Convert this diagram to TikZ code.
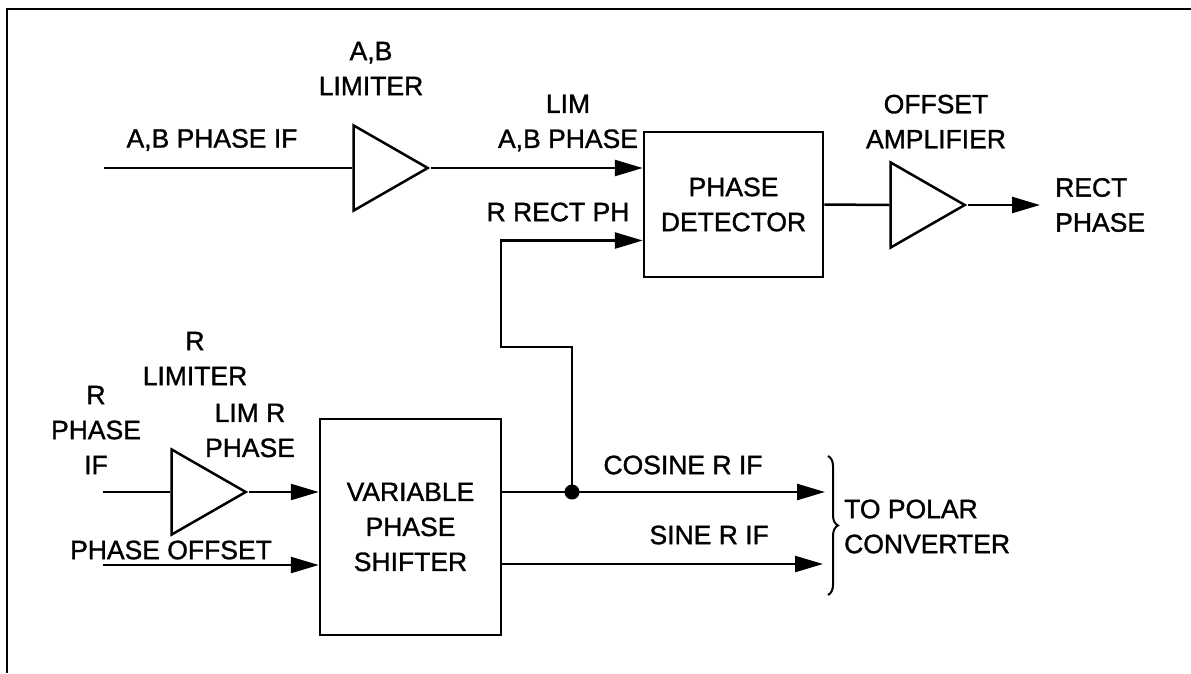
\documentclass[tikz,border=0pt]{standalone}
\usepackage{fontspec}
\setmainfont[FakeBold=1.2]{Liberation Sans}
\usetikzlibrary{shapes.geometric,arrows.meta,positioning,decorations.pathreplacing}

\begin{document}
\begin{tikzpicture}[
      x=1pt, y=-1pt,
      block/.style={
        rectangle,
        draw, line width=2.5pt,
        inner sep=0pt,
        font=\fontsize{26.5}{35}\selectfont,
        align=center
      },
      amp/.style={
        isosceles triangle,
        isosceles triangle stretches,
        draw, line width=2.5pt,
        minimum width=85pt,
        minimum height=74pt,
        inner sep=0pt
      },
      arrow/.style={
        -{Triangle[length=28pt,width=16pt]},
        line width=2.5pt
      },
      wire/.style={line width=2.5pt},
      lettering/.style={
        font=\fontsize{26.5}{35}\selectfont,
        align=center,
        inner sep=0pt
      }
    ]
      \useasboundingbox (0,0) rectangle (1191,673);
      \draw[wire] (1191,9) -- (7,9) -- (7,673);

      \node[block, minimum width=179pt, minimum height=145pt] (detector) at (733.5,204.5) {PHASE\\DETECTOR};
      \node[block, minimum width=181pt, minimum height=216pt] (shifter) at (410.5,527) {VARIABLE\\PHASE\\SHIFTER};
      \node[amp, anchor=apex] (ablim) at (431,168) {};
      \node[amp, anchor=apex] (rlim) at (249,492) {};
      \node[amp, anchor=apex] (offamp) at (968,205) {};

      \coordinate (abin) at (104,168);
      \coordinate (rin) at (103,492);
      \coordinate (offin) at (103,565);
      \coordinate (jn) at (572,492);
      \coordinate (turn) at (501,347);
      \coordinate (cosout) at (825,492);
      \coordinate (sinout) at (823,564);
      \coordinate (rectout) at (1040,205);

      \draw[wire] (abin) -- (ablim.west);
      \draw[arrow] (ablim.apex) -- (ablim.apex -| detector.west);
      \draw[arrow] (jn) |- (turn) |- ([yshift=-36pt]detector.west);
      \draw[wire] (detector.east) -- (offamp.west);
      \draw[arrow] (offamp.apex) -- (rectout);
      \draw[wire] (rin) -- (rlim.west);
      \draw[arrow] (rlim.apex) -- (rlim.apex -| shifter.west);
      \draw[arrow] (offin) -- (offin -| shifter.west);
      \draw[arrow] ([yshift=35pt]shifter.east) -- (cosout);
      \draw[arrow] ([yshift=-37pt]shifter.east) -- (sinout);
      \fill (jn) circle (7.5pt);
      \draw[line width=2pt, decorate, decoration={brace, amplitude=10pt}] (828,456) -- (828,595);

      \node[lettering] (abiflbl) at (212,140) {A,B PHASE IF};
      \node[lettering] (abllbl) at (371,68.5) {A,B\\LIMITER};
      \node[lettering] (limablbl) at (568,123) {LIM\\A,B PHASE};
      \node[lettering] (rrectlbl) at (558,212) {R RECT PH};
      \node[lettering] (offamplbl) at (936,121.5) {OFFSET\\AMPLIFIER};
      \node[lettering, align=left, right=15pt of rectout] (rectlbl) {RECT\\PHASE};
      \node[lettering] (rlimlbl) at (195,358.5) {R\\LIMITER};
      \node[lettering] (riflbl) at (96,430) {R\\PHASE\\IF};
      \node[lettering] (limrlbl) at (250,430.5) {LIM R\\PHASE};
      \node[lettering] (offlbl) at (171,550) {PHASE OFFSET};
      \node[lettering] (coslbl) at (683,465) {COSINE R IF};
      \node[lettering, anchor=east] (sinlbl) at (769,535) {SINE R IF};
      \node[lettering, align=left, anchor=west] (polarlbl) at (844,526.5) {TO POLAR\\CONVERTER};
    \end{tikzpicture}
\end{document}
